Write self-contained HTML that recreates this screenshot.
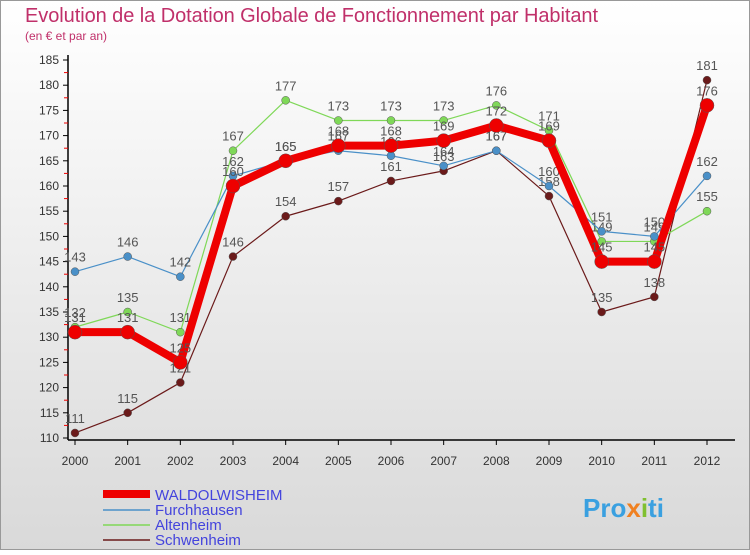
<!DOCTYPE html>
<html><head><meta charset="utf-8"><style>
body{margin:0;width:750px;height:550px;overflow:hidden;font-family:"Liberation Sans",sans-serif}
</style></head><body>
<svg width="750" height="550" xmlns="http://www.w3.org/2000/svg">
<defs><linearGradient id="bg" x1="0" y1="0" x2="0" y2="1"><stop offset="0" stop-color="#ffffff"/><stop offset="1" stop-color="#d9d9d9"/></linearGradient></defs>
<rect x="0.5" y="0.5" width="749" height="549" fill="url(#bg)" stroke="#999"/>
<text x="25" y="22" font-size="20" fill="#c0306a" textLength="573">Evolution de la Dotation Globale de Fonctionnement par Habitant</text>
<text x="25" y="40" font-size="12" fill="#c0306a">(en € et par an)</text>
<g id="axes"></g><g id="series"></g>
<g>
<line x1="103" y1="494" x2="150" y2="494" stroke="#e00" stroke-width="8"/>
<text x="155" y="500" font-size="15" fill="#4444dd">WALDOLWISHEIM</text>
<line x1="103" y1="510" x2="150" y2="510" stroke="#4a90c8" stroke-width="1.5"/>
<text x="155" y="515" font-size="15" fill="#4444dd">Furchhausen</text>
<line x1="103" y1="525" x2="150" y2="525" stroke="#7fd858" stroke-width="1.5"/>
<text x="155" y="530" font-size="15" fill="#4444dd">Altenheim</text>
<line x1="103" y1="540" x2="150" y2="540" stroke="#6b1a1a" stroke-width="1.5"/>
<text x="155" y="545" font-size="15" fill="#4444dd">Schwenheim</text>
</g>
<text x="583" y="517" font-size="26" font-weight="bold" fill="#3aa0e0">Pro<tspan fill="#f08020">x</tspan><tspan fill="#80c030">i</tspan>t<tspan fill="#3aa0e0">i</tspan></text>
</svg>
<script>
const years=[2000,2001,2002,2003,2004,2005,2006,2007,2008,2009,2010,2011,2012];
const yTicks=[110,115,120,125,130,135,140,145,150,155,160,165,170,175,180,185];
const furch=[143,146,142,162,165,167,166,164,167,160,151,150,162];
const alten=[132,135,131,167,177,173,173,173,176,171,149,149,155];
const schw=[111,115,121,146,154,157,161,163,167,158,135,138,181];
const wald=[131,131,125,160,165,168,168,169,172,169,145,145,176];
const NS="http://www.w3.org/2000/svg";
function X(i){return 75+i*(707-75)/12;}
function Y(v){return 438-(v-110)*(438-60)/75;}
function mk(t,a,p){const e=document.createElementNS(NS,t);for(const k in a)e.setAttribute(k,a[k]);p.appendChild(e);return e;}
const ax=document.getElementById('axes');
let l=mk('line',{x1:68,y1:55,x2:68,y2:440,stroke:'#000','stroke-width':1.5},ax);


l=mk('line',{x1:68,y1:440,x2:735,y2:440,stroke:'#000','stroke-width':1.5},ax);


yTicks.forEach(v=>{
 const y=Y(v);
 mk('line',{x1:63,y1:y,x2:68,y2:y,stroke:'#000'},ax);
 if(v<185)mk('line',{x1:64,y1:Y(v+2.5),x2:68,y2:Y(v+2.5),stroke:'#e00'},ax);
 const t=mk('text',{x:59,y:y+4,'font-size':12,'text-anchor':'end',fill:'#333'},ax);
 t.textContent=v;
 
 
});
years.forEach((yr,i)=>{
 const x=X(i);
 mk('line',{x1:x,y1:440,x2:x,y2:445,stroke:'#000'},ax);
 const t=mk('text',{x:x,y:465,'font-size':12,'text-anchor':'middle',fill:'#333'},ax);
 t.textContent=yr;
 
 
});
const sg=document.getElementById('series');
function draw(vals,color,w,r,name){
 const g=mk('g',{},sg);
 
 
 const p=mk('polyline',{points:vals.map((v,i)=>X(i)+','+Y(v)).join(' '),fill:'none',stroke:color,'stroke-width':w,'stroke-linejoin':'round'},g);
 
 
 vals.forEach((v,i)=>{
  const c=mk('circle',{cx:X(i),cy:Y(v),r:r,fill:color,stroke:'#555','stroke-width':0.5},g);
  
  
  const t=mk('text',{x:X(i),y:Y(v)-10,'font-size':13,'text-anchor':'middle',fill:'#555'},g);
  t.textContent=v;
  
  
 });
}
draw(schw,'#6b1a1a',1.2,4,'schwenheim');
draw(alten,'#7fd858',1.2,4,'altenheim');
draw(furch,'#4a90c8',1.2,4,'furchhausen');
draw(wald,'#ee0000',8,7,'waldolwisheim');
</script>
</body></html>
